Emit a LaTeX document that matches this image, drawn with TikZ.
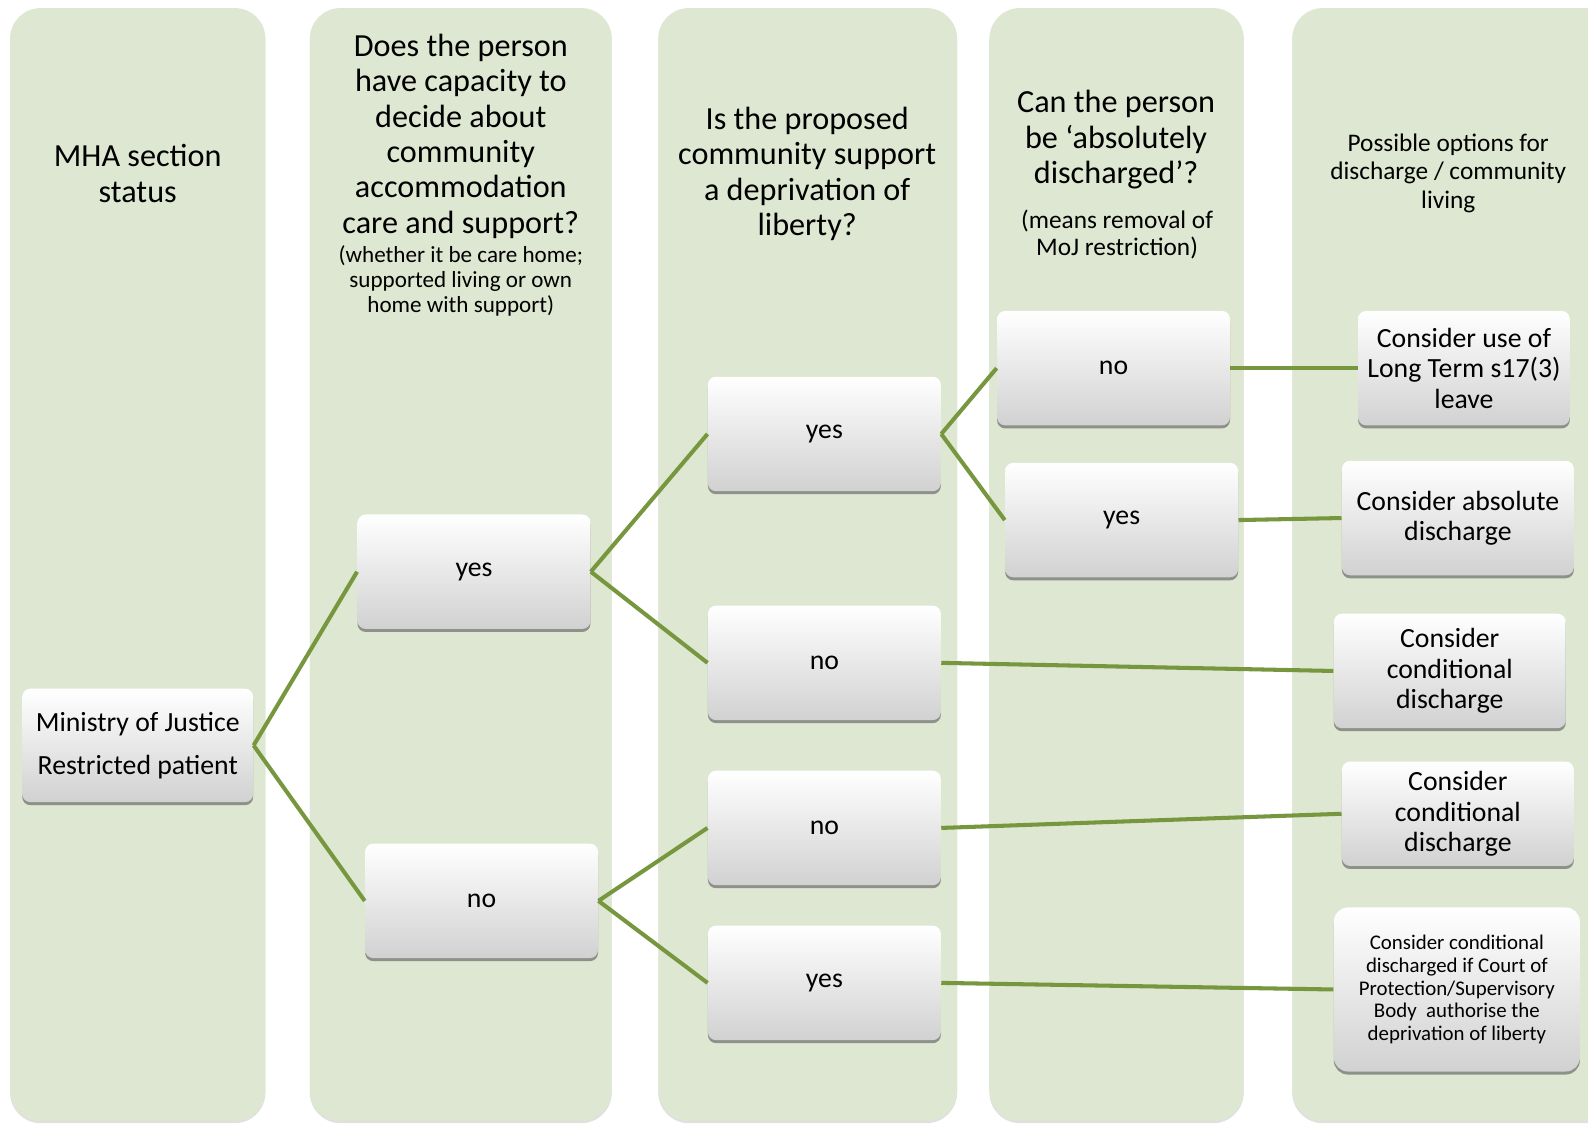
\documentclass[tikz,border=0pt]{standalone}
\usepackage{fontspec}
\setmainfont{Carlito}
\usetikzlibrary{shadows}
\definecolor{colgreen}{HTML}{DEE7D1}
\definecolor{linkgreen}{HTML}{77973F}

\begin{document}
\begin{tikzpicture}[x=0.5pt,y=-0.5pt,
  column/.style={fill=colgreen, rounded corners=15pt, drop shadow={shadow xshift=0pt,shadow yshift=-1pt,opacity=0.12,fill=black}},
  choice/.style={rounded corners=4pt, top color=white, bottom color=black!18,
    drop shadow={shadow xshift=0pt,shadow yshift=-1.5pt,opacity=0.6,fill=black!65},
    minimum width=115pt, minimum height=56.5pt, inner sep=0pt, align=center,
    font=\fontsize{13.7}{15}\selectfont},
  head/.style={align=center, font=\fontsize{15.9}{17.5}\selectfont},
  subhead/.style={align=center, font=\fontsize{11.4}{12.3}\selectfont},
  link/.style={draw=linkgreen, line width=2pt}]
  \useasboundingbox (0,0) rectangle (1568,1109);
  \clip (0,0) rectangle (1568,1109);
  \fill[white] (0,0) rectangle (1568,1109);
  % columns
  \path[column] (10,8) rectangle (262,1107);
  \path[column] (306,8) rectangle (604,1107);
  \path[column] (650,8) rectangle (945,1107);
  \path[column] (977,8) rectangle (1228,1107);
  \path[column] (1276,8) rectangle (1620,1107);
  % headings
  \node[head] (h1) at (136,171.5) {MHA section\\status};
  \node[head] (h2) at (455,134.5) {Does the person\\have capacity to\\decide about\\community\\accommodation\\care and support?};
  \node[subhead] (h2s) at (455,277.5) {(whether it be care home;\\supported living or own\\home with support)};
  \node[head] (h3) at (797,171.5) {Is the proposed\\community support\\a deprivation of\\liberty?};
  \node[head] (h4) at (1102,138) {Can the person\\be ‘absolutely\\discharged’?};
  \node[subhead, font=\fontsize{12.5}{13.5}\selectfont] (h4s) at (1103,231.5) {(means removal of\\MoJ restriction)};
  \node[subhead, font=\fontsize{12.5}{14}\selectfont] (h5) at (1430,171) {Possible options for\\discharge / community\\living};
  % decision boxes
  \node[choice, minimum width=114pt, minimum height=56pt, font=\fontsize{13.7}{21}\selectfont] (moj) at (136,736) {Ministry of Justice\\Restricted patient};
  \node[choice] (capyes) at (468,564.5) {yes};
  \node[choice] (capno) at (475.5,889.5) {no};
  \node[choice] (dolyes) at (814,428.5) {yes};
  \node[choice] (dolno) at (814,654.5) {no};
  \node[choice] (ndolno) at (814,817.5) {no};
  \node[choice] (ndolyes) at (814,970.5) {yes};
  \node[choice] (absno) at (1099.5,363.5) {no};
  \node[choice] (absyes) at (1107.5,513.5) {yes};
  % outcomes
  \node[choice, minimum width=104.5pt] (optleave) at (1445.5,363.5) {Consider use of\\Long Term s17(3)\\leave};
  \node[choice, minimum width=114.5pt] (optabs) at (1439.5,511.5) {Consider absolute\\discharge};
  \node[choice, minimum width=114.5pt] (optcond) at (1431.5,662.5) {Consider\\conditional\\discharge};
  \node[choice, minimum width=114.5pt, minimum height=51.5pt] (optcondb) at (1439.5,803.5) {Consider\\conditional\\discharge};
  \node[choice, minimum width=121.5pt, minimum height=81pt, rounded corners=7pt, font=\fontsize{10.3}{11.3}\selectfont] (optcop) at (1438.5,977) {Consider conditional\\discharged if Court of\\Protection/Supervisory\\Body\ \ authorise the\\deprivation of liberty};
  % connectors
  \draw[link] (moj.east) -- (capyes.west);
  \draw[link] (moj.east) -- (capno.west);
  \draw[link] (capyes.east) -- (dolyes.west);
  \draw[link] (capyes.east) -- (dolno.west);
  \draw[link] (capno.east) -- (ndolno.west);
  \draw[link] (capno.east) -- (ndolyes.west);
  \draw[link] (dolyes.east) -- (absno.west);
  \draw[link] (dolyes.east) -- (absyes.west);
  \draw[link] (absno.east) -- (optleave.west);
  \draw[link] (absyes.east) -- (optabs.west);
  \draw[link] (dolno.east) -- (optcond.west);
  \draw[link] (ndolno.east) -- (optcondb.west);
  \draw[link] (ndolyes.east) -- (optcop.west);
\end{tikzpicture}
\end{document}
